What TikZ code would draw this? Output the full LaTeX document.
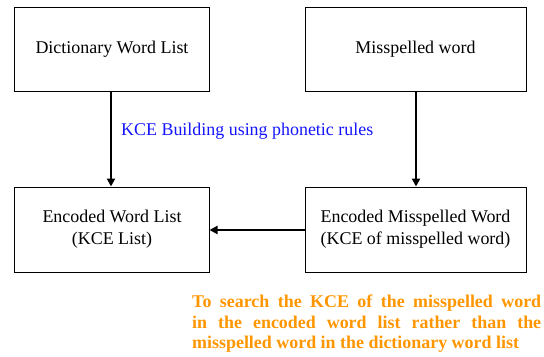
\documentclass[tikz,border=0pt]{standalone}
\usepackage{fontspec}
\setmainfont{Liberation Serif}
\usetikzlibrary{arrows.meta}
\hyphenpenalty=10000
\exhyphenpenalty=10000
\definecolor{lblblue}{RGB}{20,20,255}
\definecolor{lblorange}{RGB}{255,150,0}
\tikzset{
  box/.style={draw=black, line width=1bp, minimum height=84bp, align=center, inner sep=0pt,
    font=\fontsize{18}{22}\selectfont},
  conn/.style={line width=2bp, -{Triangle[length=8bp,width=8bp]}}
}
\begin{document}
\begin{tikzpicture}[x=1bp,y=-1bp]
\useasboundingbox (0,0) rectangle (544,356);
\node[box, minimum width=194bp] (dict) at (112,49) {Dictionary Word List};
\node[box, minimum width=221bp] (miss) at (415.5,49) {Misspelled word};
\node[box, minimum width=194bp, minimum height=85bp] (enc) at (112,229.5) {Encoded Word List\\(KCE List)};
\node[box, minimum width=221bp, minimum height=85bp] (encm) at (415.5,229.5) {Encoded Misspelled Word\\(KCE of misspelled word)};
\draw[conn] (dict.south -| 111,0) -- (enc.north -| 111,0);
\draw[conn] (miss.south -| 416,0) -- (encm.north -| 416,0);
\draw[conn] (encm.west |- 0,230) -- (enc.east |- 0,230);
\node[anchor=west, inner sep=0pt, text=lblblue, font=\fontsize{18}{22}\selectfont] (lbl) at (121,131) {KCE Building using phonetic rules};
\node[anchor=north west, inner sep=0pt, text=lblorange, text width=349bp, align=justify,
  font=\fontsize{18}{20.5}\selectfont\bfseries] (note) at (192,295)
  {\hyphenpenalty=10000\exhyphenpenalty=10000 To search the KCE of the misspelled word\linebreak in the encoded word list rather than the\linebreak misspelled word in the dictionary word list\par};
\end{tikzpicture}
\end{document}
